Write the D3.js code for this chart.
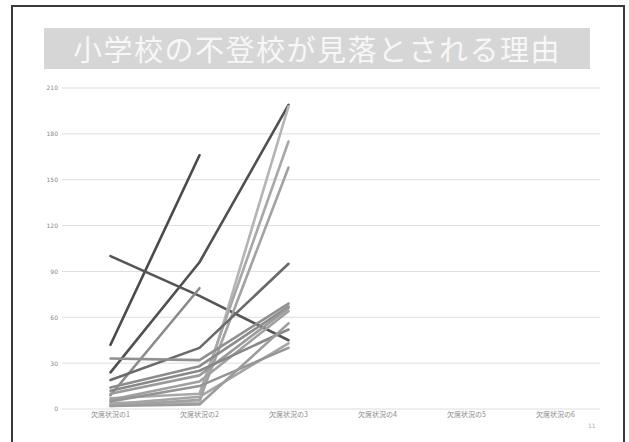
<!DOCTYPE html>
<html>
<head>
<meta charset="utf-8">
<script src="https://cdn.jsdelivr.net/npm/d3@7"></script>
<style>
  html, body { margin: 0; padding: 0; background: #ffffff; }
  svg { display: block; }
</style>
</head>
<body>
<svg id="chart" width="629" height="442"></svg>
<script>
// ---- data ----
const titleText = "小学校の不登校が見落とされる理由";
const categories = ["欠席状況の1", "欠席状況の2", "欠席状況の3", "欠席状況の4", "欠席状況の5", "欠席状況の6"];
const yTicks = [0, 30, 60, 90, 120, 150, 180, 210];
const seriesA = [42, 166, null];
const seriesB = [24, 96, 199];
const seriesC = [100, 74, 45];
const seriesD = [9, 79, null];
const seriesE = [4, 4, 198];
const seriesF = [7, 10, 175];
const seriesG = [2, 6, 158];
const seriesH = [19, 40, 95];
const seriesI = [33, 32, 69];
const seriesJ = [14, 28, 67];
const seriesK = [10, 22, 66];
const seriesL = [6, 18, 64];
const seriesM = [12, 25, 52];
const seriesN = [3, 8, 43];
const seriesO = [5, 15, 40];
const seriesP = [2, 3, 56];

const allSeries = [seriesA, seriesB, seriesC, seriesD, seriesE, seriesF, seriesG, seriesH,
                   seriesI, seriesJ, seriesK, seriesL, seriesM, seriesN, seriesO, seriesP];
const shades = ["#4a4a4a", "#505050", "#555555", "#8a8a8a", "#b4b4b4", "#a8a8a8", "#a2a2a2", "#6a6a6a",
                "#909090", "#8c8c8c", "#9a9a9a", "#a0a0a0", "#888888", "#a5a5a5", "#959595", "#9c9c9c"];

const svg = d3.select("#chart");

// slide frame
svg.append("rect").attr("x", 12).attr("y", 6).attr("width", 612).attr("height", 450)
  .attr("fill", "none").attr("stroke", "#3a3a3a").attr("stroke-width", 2);

// title band
svg.append("rect").attr("x", 44).attr("y", 28).attr("width", 546).attr("height", 41)
  .attr("fill", "#d6d6d6");
svg.append("text").attr("x", 317).attr("y", 61)
  .attr("text-anchor", "middle")
  .attr("font-family", "Noto Sans CJK JP")
  .attr("font-size", 29)
  .attr("letter-spacing", 1.5)
  .attr("fill", "#f7f7f7")
  .text(titleText);

// scales
const x = d3.scaleBand().domain(categories).range([66, 600]).padding(0);
const y = d3.scaleLinear().domain([0, 210]).range([409, 88]);
const cx = c => x(c) + x.bandwidth() / 2;

// gridlines
svg.append("g").selectAll("line").data(yTicks).join("line")
  .attr("x1", 62).attr("x2", 600)
  .attr("y1", d => y(d)).attr("y2", d => y(d))
  .attr("stroke", "#dedede").attr("stroke-width", 1);

// y axis labels
const yAxis = d3.axisLeft(y).tickValues(yTicks).tickSize(0).tickPadding(0);
const gy = svg.append("g").attr("transform", "translate(58,0)").call(yAxis);
gy.select(".domain").remove();
gy.selectAll("text").attr("font-size", 6).attr("fill", "#888").attr("font-family", "DejaVu Sans");

// x axis labels
const xAxis = d3.axisBottom(x).tickSize(0).tickPadding(0);
const gx = svg.append("g").attr("transform", "translate(0,412)").call(xAxis);
gx.select(".domain").remove();
gx.selectAll("text").attr("font-size", 7).attr("fill", "#8a8a8a").attr("font-family", "Noto Sans CJK JP");

// lines
const line = d3.line()
  .defined(d => d.v != null)
  .x(d => cx(categories[d.i]))
  .y(d => y(d.v));

svg.append("g").selectAll("path").data(allSeries).join("path")
  .attr("d", s => line(s.map((v, i) => ({ v, i }))))
  .attr("fill", "none")
  .attr("stroke", (s, i) => shades[i])
  .attr("stroke-width", 2.6)
  .attr("stroke-linecap", "round")
  .attr("stroke-linejoin", "round");

// page number
svg.append("text").attr("x", 588).attr("y", 428).attr("font-size", 6)
  .attr("fill", "#aaa").attr("font-family", "DejaVu Sans").text("11");
</script>
</body>
</html>
